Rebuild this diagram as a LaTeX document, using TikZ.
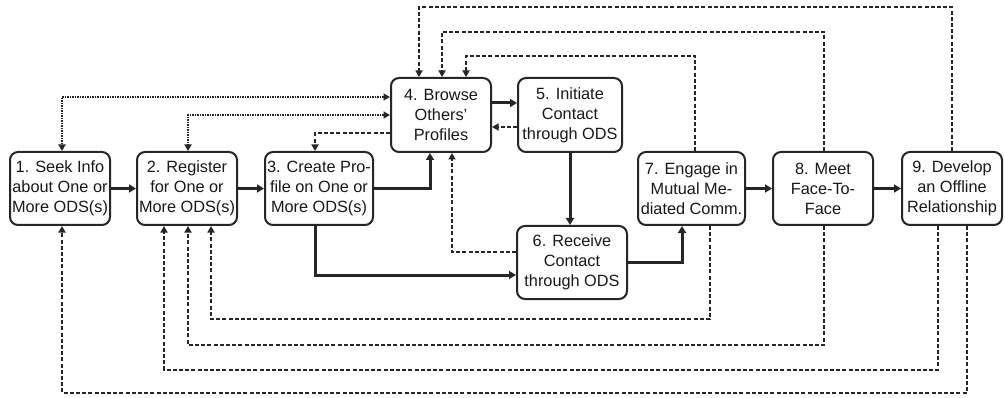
\documentclass[tikz,border=0pt]{standalone}
\usepackage{fontspec}
\setmainfont{Liberation Sans}
\usetikzlibrary{arrows.meta,calc}
\begin{document}
\begin{tikzpicture}[x=1pt,y=1pt,
 box/.style={draw=black!85, line width=2pt, rounded corners=8pt, fill=white, align=center, inner sep=0pt, font=\fontsize{16.3}{20}\selectfont, minimum height=73pt, text=black!90},
 flow/.style={line width=3pt, draw=black!85, -{Triangle[length=7pt,width=8pt]}},
 back/.style={line width=1.8pt, draw=black!85, dash pattern=on 4pt off 2.2pt, -{Triangle[length=6.5pt,width=7pt]}},
 both/.style={line width=2.3pt, draw=black!85, dash pattern=on 1.8pt off 0.7pt, {Triangle[length=6.5pt,width=7pt]}-{Triangle[length=6.5pt,width=7pt]}},
]
\useasboundingbox (0,0) rectangle (1005,397);
\node[box, minimum width=100pt] (n1) at (60,208.5) {1. Seek Info\\about One or\\More ODS(s)};
\node[box, minimum width=100pt] (n2) at (187,208.5) {2. Register\\for One or\\More ODS(s)};
\node[box, minimum width=108pt] (n3) at (319,208.5) {3. Create Pro-\\file on One or\\More ODS(s)};
\node[box, minimum width=100pt, minimum height=74pt] (n4) at (441,282) {4. Browse\\Others'\\Profiles};
\node[box, minimum width=104pt, minimum height=74pt] (n5) at (570,282) {5. Initiate\\Contact\\through ODS};
\node[box, minimum width=110pt] (n6) at (572,134.5) {6. Receive\\Contact\\through ODS};
\node[box, minimum width=107pt] (n7) at (691.5,208.5) {7. Engage in\\Mutual Me-\\diated Comm.};
\node[box, minimum width=100pt] (n8) at (823,208.5) {8. Meet\\Face-To-\\Face};
\node[box, minimum width=100pt] (n9) at (952,208.5) {9. Develop\\an Offline\\Relationship};
% main flow
\draw[flow] (n1) -- (n2);
\draw[flow] (n2) -- (n3);
\draw[flow] (n3.east) -| ([xshift=-11pt]n4.south);
\draw[flow] ([yshift=12pt]n4.east) -- ([yshift=12pt]n5.west);
\draw[back] ([yshift=-12pt]n5.west) -- ([yshift=-12pt]n4.east);
\draw[flow] (n5.south) -- (n5.south |- n6.north);
\draw[back] ([yshift=10.5pt]n6.west) -| ([xshift=11pt]n4.south);
\draw[flow] ([xshift=-4pt]n3.south) |- ([yshift=-12.5pt]n6.west);
\draw[flow] (n6.east) -| ([xshift=-9.5pt]n7.south);
\draw[flow] (n7) -- (n8);
\draw[flow] (n8) -- (n9);
% browse links
\draw[both] ([yshift=18pt]n4.west) -| ([xshift=2pt]n1.north);
\draw[both] (n4.west) -| ([xshift=1pt]n2.north);
\draw[back] ([yshift=-18pt]n4.west) -| ([xshift=-4pt]n3.north);
% top feedback
\coordinate (t9) at (0,390);
\coordinate (t8) at (0,365);
\coordinate (t7) at (0,341);
\draw[back] (n9.north) -- (n9.north |- t9) -| ([xshift=-22pt]n4.north);
\draw[back] ([xshift=1pt]n8.north) -- ([xshift=1pt]n8.north |- t8) -| ([xshift=1pt]n4.north);
\draw[back] ([xshift=3.5pt]n7.north) -- ([xshift=3.5pt]n7.north |- t7) -| ([xshift=25pt]n4.north);
% bottom feedback
\coordinate (b7) at (0,78);
\coordinate (b8) at (0,52);
\coordinate (b9) at (0,27);
\coordinate (b1) at (0,4);
\draw[back] ([xshift=18.5pt]n7.south) -- ([xshift=18.5pt]n7.south |- b7) -| ([xshift=24pt]n2.south);
\draw[back] ([xshift=1pt]n8.south) -- ([xshift=1pt]n8.south |- b8) -| ([xshift=1pt]n2.south);
\draw[back] ([xshift=-14pt]n9.south) -- ([xshift=-14pt]n9.south |- b9) -| ([xshift=-23pt]n2.south);
\draw[back] ([xshift=15pt]n9.south) -- ([xshift=15pt]n9.south |- b1) -| ([xshift=2pt]n1.south);
\end{tikzpicture}
\end{document}
